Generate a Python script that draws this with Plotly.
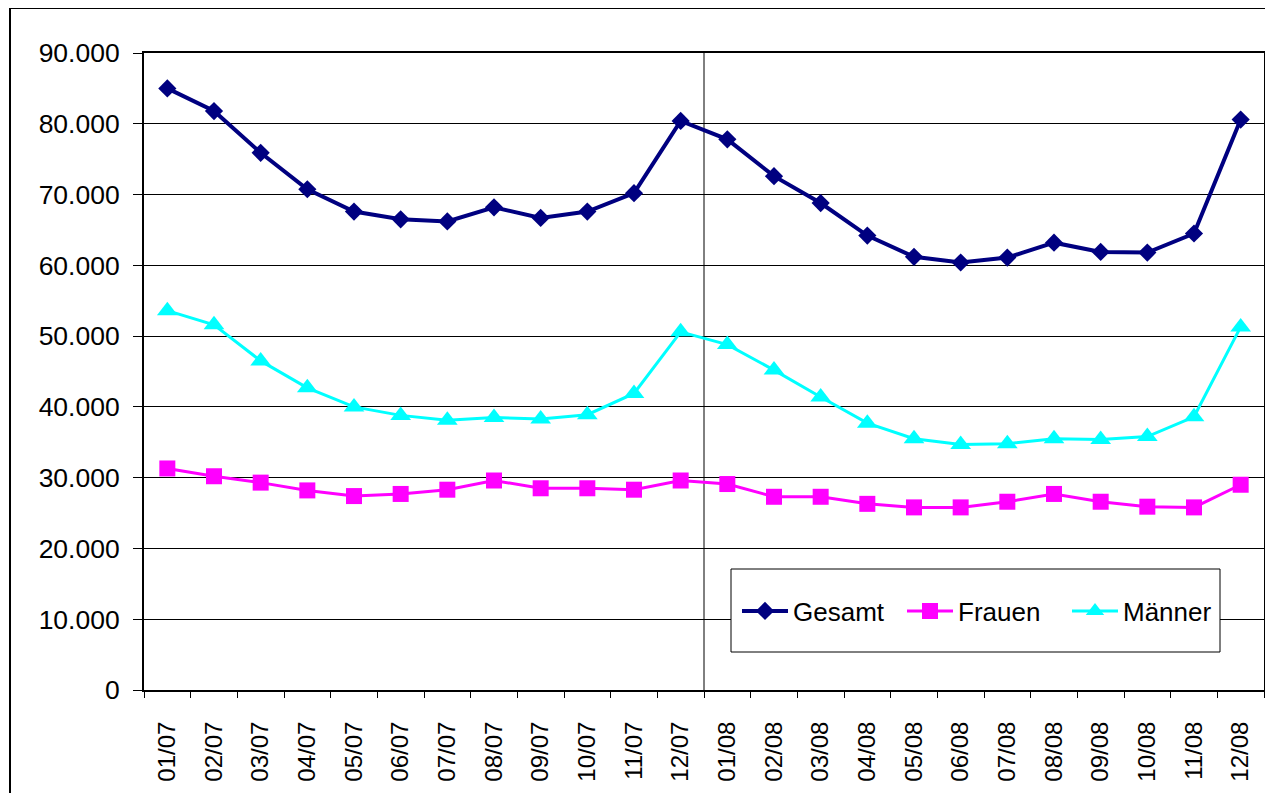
import plotly.graph_objects as go

months = ["01/07", "02/07", "03/07", "04/07", "05/07", "06/07", "07/07", "08/07", "09/07", "10/07", "11/07", "12/07",
          "01/08", "02/08", "03/08", "04/08", "05/08", "06/08", "07/08", "08/08", "09/08", "10/08", "11/08", "12/08"]

gesamt = [85000, 81800, 75900, 70750, 67600, 66500, 66200, 68200, 66700, 67600, 70200, 80400,
          77800, 72600, 68800, 64200, 61200, 60400, 61100, 63200, 61900, 61800, 64500, 80600]

frauen = [31300, 30200, 29300, 28200, 27400, 27700, 28300, 29600, 28500, 28500, 28300, 29600,
          29100, 27300, 27300, 26300, 25800, 25800, 26600, 27700, 26600, 25900, 25800, 29000]

maenner = [53600, 51600, 46500, 42700, 40000, 38800, 38100, 38500, 38300, 38900, 41900, 50600,
           48800, 45200, 41400, 37700, 35500, 34700, 34800, 35500, 35400, 35800, 38600, 51300]

y_ticks = [0, 10000, 20000, 30000, 40000, 50000, 60000, 70000, 80000, 90000]

FONT = "Liberation Sans, Arial, sans-serif"

# page layout (body has an 8px margin): plot area spans page x 144..1264, y 53..690
PW, PH = 1120.0, 637.0


def px(xp):
    return (xp - 144) / PW


def py(yp):
    return (690 - yp) / PH


fig = go.Figure()
fig.add_trace(go.Scatter(x=months, y=gesamt, name="Gesamt", mode="lines+markers",
                         line=dict(color="#000080", width=4),
                         marker=dict(symbol="diamond", size=14, color="#000080")))
fig.add_trace(go.Scatter(x=months, y=frauen, name="Frauen", mode="lines+markers",
                         line=dict(color="#FF00FF", width=3),
                         marker=dict(symbol="square", size=16, color="#FF00FF")))
fig.add_trace(go.Scatter(x=months, y=maenner, name="Männer", mode="lines+markers",
                         line=dict(color="#00FFFF", width=3),
                         marker=dict(symbol="triangle-up", size=18, color="#00FFFF")))

# vertical separator between years
fig.add_shape(type="line", xref="x", yref="y", x0=11.5, x1=11.5, y0=0, y1=90000,
              line=dict(color="black", width=1), layer="below")

# legend box
fig.add_shape(type="rect", xref="paper", yref="paper",
              x0=px(731), x1=px(1220), y0=py(652), y1=py(569),
              line=dict(color="black", width=1), fillcolor="white", layer="above")

# outer chart border
fig.add_shape(type="rect", xref="paper", yref="paper",
              x0=px(10), x1=px(1270), y0=py(800), y1=py(8),
              line=dict(color="black", width=2), fillcolor="rgba(0,0,0,0)")

fig.update_layout(
    width=1265, height=785,
    margin=dict(l=136, r=9, t=45, b=103, autoexpand=False),
    paper_bgcolor="white", plot_bgcolor="white",
    separators=",.",
    font=dict(family=FONT, size=26, color="black"),
    showlegend=True,
    legend=dict(orientation="h", x=px(737), y=py(611),
                xanchor="left", yanchor="middle",
                borderwidth=0, bgcolor="rgba(0,0,0,0)",
                font=dict(family=FONT, size=26, color="black"),
                itemwidth=46, entrywidth=104, traceorder="normal"),
    xaxis=dict(type="category", range=[-0.5, 23.5], tickson="boundaries",
               ticks="outside", ticklen=6, tickcolor="black", tickwidth=1,
               showline=True, linecolor="black", linewidth=2, mirror=True,
               showgrid=False, tickangle=-90, ticklabelstandoff=20,
               tickfont=dict(family=FONT, size=24, color="black")),
    yaxis=dict(range=[0, 90000], tickvals=y_ticks, tickformat=",d",
               ticks="outside", ticklen=9, tickcolor="black", tickwidth=1,
               showline=True, linecolor="black", linewidth=2, mirror=True,
               showgrid=True, gridcolor="black", gridwidth=1, zeroline=False,
               ticklabelstandoff=8,
               tickfont=dict(family=FONT, size=26.5, color="black")),
)

fig.write_html("out.html")
